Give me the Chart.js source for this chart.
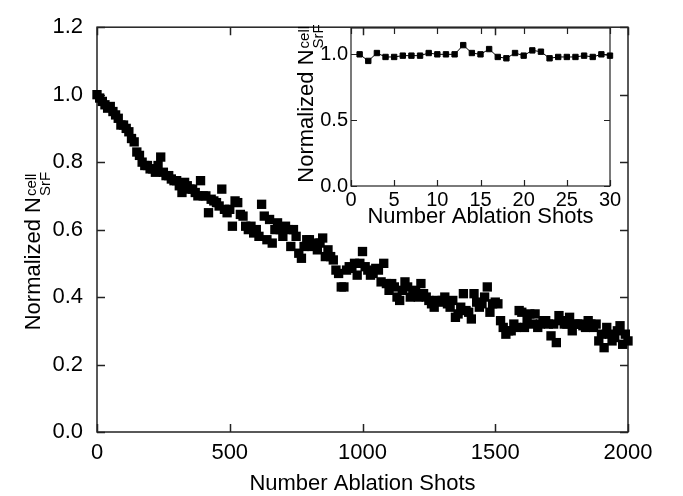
<!DOCTYPE html>
<html>
<head>
<meta charset="utf-8">
<script src="https://cdn.jsdelivr.net/npm/chart.js@4.4.0/dist/chart.umd.min.js"></script>
<style>
html, body { margin: 0; padding: 0; background: #fff; }
#wrap { position: relative; width: 683px; height: 496px; }
#main { position: absolute; left: 0; top: 0; }
#inset { position: absolute; left: 270px; top: 0; }
</style>
</head>
<body>
<div id="wrap">
  <canvas id="main" width="683" height="496"></canvas>
  <canvas id="inset" width="370" height="235"></canvas>
</div>
<script>
"use strict";

// main plot: signal vs shot number
var shots = [
  0, 10, 20, 30, 40, 50, 60, 70, 80, 90,
  100, 110, 120, 130, 140, 150, 160, 170, 180, 190,
  200, 210, 220, 230, 240, 250, 260, 270, 280, 290,
  300, 310, 320, 330, 340, 350, 360, 370, 380, 390,
  400, 410, 420, 430, 440, 450, 460, 470, 480, 490,
  500, 510, 520, 530, 540, 550, 560, 570, 580, 590,
  600, 610, 620, 630, 640, 650, 660, 670, 680, 690,
  700, 710, 720, 730, 740, 750, 760, 770, 780, 790,
  800, 810, 820, 830, 840, 850, 860, 870, 880, 890,
  900, 910, 920, 930, 940, 950, 960, 970, 980, 990,
  1000, 1010, 1020, 1030, 1040, 1050, 1060, 1070, 1080, 1090,
  1100, 1110, 1120, 1130, 1140, 1150, 1160, 1170, 1180, 1190,
  1200, 1210, 1220, 1230, 1240, 1250, 1260, 1270, 1280, 1290,
  1300, 1310, 1320, 1330, 1340, 1350, 1360, 1370, 1380, 1390,
  1400, 1410, 1420, 1430, 1440, 1450, 1460, 1470, 1480, 1490,
  1500, 1510, 1520, 1530, 1540, 1550, 1560, 1570, 1580, 1590,
  1600, 1610, 1620, 1630, 1640, 1650, 1660, 1670, 1680, 1690,
  1700, 1710, 1720, 1730, 1740, 1750, 1760, 1770, 1780, 1790,
  1800, 1810, 1820, 1830, 1840, 1850, 1860, 1870, 1880, 1890,
  1900, 1910, 1920, 1930, 1940, 1950, 1960, 1970, 1980, 1990,
  2000
];
var signal = [
  1.00, 0.99, 0.98, 0.97, 0.96, 0.965, 0.95, 0.94, 0.93, 0.91,
  0.91, 0.90, 0.89, 0.87, 0.86, 0.83, 0.82, 0.80, 0.79, 0.79,
  0.78, 0.78, 0.77, 0.79, 0.815, 0.77, 0.76, 0.76, 0.75, 0.745,
  0.745, 0.73, 0.71, 0.74, 0.73, 0.72, 0.72, 0.71, 0.70, 0.745,
  0.70, 0.70, 0.65, 0.69, 0.685, 0.68, 0.67, 0.72, 0.66, 0.65,
  0.66, 0.61, 0.685, 0.68, 0.645, 0.64, 0.61, 0.60, 0.61, 0.59,
  0.60, 0.58, 0.675, 0.64, 0.57, 0.63, 0.56, 0.60, 0.62, 0.60,
  0.58, 0.61, 0.60, 0.55, 0.60, 0.58, 0.53, 0.515, 0.55, 0.57,
  0.57, 0.55, 0.56, 0.54, 0.56, 0.575, 0.52, 0.54, 0.52, 0.51,
  0.48, 0.47, 0.43, 0.43, 0.48, 0.49, 0.485, 0.50, 0.465, 0.50,
  0.535, 0.49, 0.48, 0.465, 0.47, 0.485, 0.48, 0.445, 0.50, 0.44,
  0.42, 0.44, 0.43, 0.40, 0.39, 0.42, 0.445, 0.43, 0.40, 0.415,
  0.42, 0.40, 0.44, 0.41, 0.40, 0.39, 0.38, 0.37, 0.39, 0.385,
  0.39, 0.40, 0.38, 0.37, 0.39, 0.34, 0.35, 0.37, 0.41, 0.36,
  0.355, 0.335, 0.41, 0.385, 0.37, 0.38, 0.40, 0.43, 0.355, 0.38,
  0.385, 0.38, 0.33, 0.31, 0.29, 0.30, 0.30, 0.32, 0.31, 0.36,
  0.355, 0.31, 0.33, 0.35, 0.32, 0.35, 0.31, 0.32, 0.33, 0.33,
  0.32, 0.285, 0.32, 0.265, 0.345, 0.33, 0.32, 0.32, 0.34, 0.30,
  0.32, 0.32, 0.32, 0.315, 0.31, 0.33, 0.32, 0.31, 0.32, 0.27,
  0.29, 0.25, 0.31, 0.29, 0.27, 0.28, 0.30, 0.315, 0.26, 0.29,
  0.27
];
var mainXTicks = [0, 500, 1000, 1500, 2000];
var mainYTicks = [0, 0.2, 0.4, 0.6, 0.8, 1.0, 1.2];

// inset: first 30 shots
var insetShots = [1, 2, 3, 4, 5, 6, 7, 8, 9, 10, 11, 12, 13, 14, 15,
  16, 17, 18, 19, 20, 21, 22, 23, 24, 25, 26, 27, 28, 29, 30];
var insetSignal = [1.00, 0.95, 1.01, 0.98, 0.98, 0.99, 0.99, 0.99, 1.01, 1.00,
  1.00, 1.00, 1.07, 1.01, 1.00, 1.04, 0.98, 0.97, 1.01, 0.99,
  1.03, 1.02, 0.97, 0.98, 0.98, 0.98, 0.99, 0.98, 1.00, 0.99];
var insetXTicks = [0, 5, 10, 15, 20, 25, 30];
var insetYTicks = [0, 0.5, 1.0];

var FONT = "'Liberation Sans', Arial, sans-serif";
Chart.defaults.font.family = FONT;
Chart.defaults.color = '#000';

function toPoints(xs, ys) {
	return xs.map(function (x, i) { return { x: x, y: ys[i] }; });
}

function setTicks(list) {
	return function (scale) {
		scale.ticks = list.map(function (v) { return { value: v }; });
	};
}

/*******************
  FRAME + INNER TICKS
*******************/

var frameTicks = {
	id: 'frameTicks',
	beforeDatasetsDraw: function (chart, args, opts) {
		var ctx = chart.ctx;
		var a = chart.chartArea;
		var sx = chart.scales.x;
		var sy = chart.scales.y;
		ctx.save();
		ctx.strokeStyle = '#222';
		ctx.lineWidth = opts.lineWidth;
		ctx.strokeRect(a.left, a.top, a.right - a.left, a.bottom - a.top);
		ctx.beginPath();
		sx.ticks.forEach(function (t) {
			var px = Math.round(sx.getPixelForValue(t.value)) + 0.5;
			ctx.moveTo(px, a.bottom); ctx.lineTo(px, a.bottom - opts.len);
			ctx.moveTo(px, a.top); ctx.lineTo(px, a.top + opts.len);
		});
		sy.ticks.forEach(function (t) {
			var py = Math.round(sy.getPixelForValue(t.value)) + 0.5;
			ctx.moveTo(a.left, py); ctx.lineTo(a.left + opts.len, py);
			ctx.moveTo(a.right, py); ctx.lineTo(a.right - opts.len, py);
		});
		ctx.stroke();
		ctx.restore();
	}
};

/*******************
  AXIS TITLES
*******************/

function drawYTitle(ctx, x, yc, o) {
	ctx.save();
	ctx.translate(x, yc);
	ctx.rotate(-Math.PI / 2);
	ctx.fillStyle = '#000';
	ctx.textAlign = 'left';
	ctx.textBaseline = 'alphabetic';
	ctx.font = o.size + 'px ' + FONT;
	var w1 = ctx.measureText(o.main).width;
	ctx.font = o.small + 'px ' + FONT;
	var w2 = Math.max(ctx.measureText(o.sup).width, ctx.measureText(o.sub).width);
	var x0 = -(w1 + w2) / 2;
	ctx.font = o.size + 'px ' + FONT;
	ctx.fillText(o.main, x0, 0);
	ctx.font = o.small + 'px ' + FONT;
	ctx.fillText(o.sup, x0 + w1 + 1, -o.rise);
	ctx.fillText(o.sub, x0 + w1 + 1, o.drop);
	ctx.restore();
}

var axisTitles = {
	id: 'axisTitles',
	afterDraw: function (chart, args, o) {
		var ctx = chart.ctx;
		var a = chart.chartArea;
		ctx.save();
		ctx.fillStyle = '#000';
		ctx.font = o.size + 'px ' + FONT;
		ctx.textAlign = 'center';
		ctx.textBaseline = 'alphabetic';
		ctx.fillText('Number Ablation Shots', (a.left + a.right) / 2, a.bottom + o.xGap);
		ctx.restore();
		drawYTitle(ctx, a.left - o.yGap, (a.top + a.bottom) / 2 + o.yShift, {
			main: 'Normalized N', sup: 'cell', sub: 'SrF',
			size: o.size, small: 15, rise: 4, drop: 10
		});
	}
};

/*******************
  MAIN CHART
*******************/

var mainChart = new Chart(document.getElementById('main'), {
	type: 'scatter',
	data: {
		datasets: [{
			data: toPoints(shots, signal),
			pointStyle: 'rect',
			pointRadius: 6.6,
			pointHoverRadius: 6.6,
			backgroundColor: '#000',
			borderColor: '#000',
			borderWidth: 0,
			showLine: false,
			clip: false
		}]
	},
	options: {
		responsive: false,
		animation: false,
		devicePixelRatio: 1,
		layout: { padding: { left: 0, right: 55, top: 14, bottom: 0 } },
		plugins: {
			legend: { display: false },
			tooltip: { enabled: false },
			frameTicks: { lineWidth: 1.5, len: 8 },
			axisTitles: { size: 22, xGap: 58, yGap: 57, yShift: 22 }
		},
		scales: {
			x: {
				type: 'linear', min: 0, max: 2000,
				afterBuildTicks: setTicks(mainXTicks),
				afterFit: function (s) { s.height = 64; },
				grid: { display: false, drawTicks: false },
				border: { display: false },
				ticks: { font: { size: 22 }, padding: 8, maxRotation: 0,
					callback: function (v) { return String(v); } }
			},
			y: {
				min: 0, max: 1.2,
				afterBuildTicks: setTicks(mainYTicks),
				afterFit: function (s) { s.width = 97; },
				grid: { display: false, drawTicks: false },
				border: { display: false },
				ticks: { font: { size: 22 }, padding: 14,
					callback: function (v) { return v.toFixed(1); } }
			}
		}
	},
	plugins: [frameTicks, axisTitles]
});

/*******************
  INSET CHART
*******************/

var insetChart = new Chart(document.getElementById('inset'), {
	type: 'scatter',
	data: {
		datasets: [{
			data: toPoints(insetShots, insetSignal),
			pointStyle: 'rect',
			pointRadius: 3.8,
			pointHoverRadius: 3.8,
			backgroundColor: '#000',
			borderColor: '#000',
			borderWidth: 1,
			showLine: true,
			clip: false
		}]
	},
	options: {
		responsive: false,
		animation: false,
		devicePixelRatio: 1,
		layout: { padding: { left: 0, right: 30, top: 28, bottom: 0 } },
		plugins: {
			legend: { display: false },
			tooltip: { enabled: false },
			frameTicks: { lineWidth: 1.2, len: 6 },
			axisTitles: { size: 22, xGap: 37, yGap: 38, yShift: -3 }
		},
		scales: {
			x: {
				type: 'linear', min: 0, max: 30,
				afterBuildTicks: setTicks(insetXTicks),
				afterFit: function (s) { s.height = 49; },
				grid: { display: false, drawTicks: false },
				border: { display: false },
				ticks: { font: { size: 20 }, padding: 2, maxRotation: 0,
					callback: function (v) { return String(v); } }
			},
			y: {
				min: 0, max: 1.2,
				afterBuildTicks: setTicks(insetYTicks),
				afterFit: function (s) { s.width = 81; },
				grid: { display: false, drawTicks: false },
				border: { display: false },
				ticks: { font: { size: 20 }, padding: 3,
					callback: function (v) { return v.toFixed(1); } }
			}
		}
	},
	plugins: [frameTicks, axisTitles]
});
</script>
</body>
</html>
